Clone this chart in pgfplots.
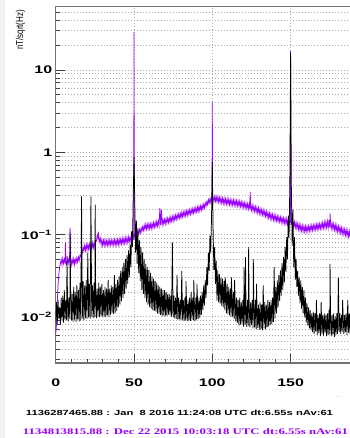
\documentclass[border=0pt]{standalone}
\usepackage{pgfplots}
\pgfplotsset{compat=1.18}
\usepackage{graphicx}
\usepackage{fontspec}
\setmainfont{Liberation Sans}
\newfontfamily\serifbf{Liberation Serif}
\definecolor{rootpurple}{RGB}{153,0,255}
\newcommand{\tl}[1]{\scalebox{1.45}[1]{#1}}

\pgfplotstableread{
x y
0 0.0062
0.5 0.008
1 0.015
1.5 0.024
2 0.033
2.5 0.04
3 0.044
3.5 0.05
4 0.043
4.5 0.051
5 0.044
5.5 0.05
6 0.045
6.2 0.08
6.5 0.046
7 0.043
7.5 0.05
8 0.044
8.5 0.052
9 0.047
9.2 0.12
9.5 0.05
10 0.043
10.5 0.05
11 0.044
11.5 0.051
12 0.043
12.5 0.05
13 0.045
13.5 0.052
14 0.046
14.5 0.053
15 0.048
15.5 0.056
16 0.054
16.5 0.062
17 0.06
17.5 0.07
18 0.063
18.5 0.074
19 0.064
19.5 0.075
20 0.065
20.5 0.076
21 0.066
21.5 0.077
22 0.066
22.5 0.078
23 0.067
23.5 0.079
24 0.068
24.5 0.08
25 0.07
25.5 0.085
26 0.083
26.5 0.098
27 0.09
27.2 0.108
27.5 0.095
28 0.082
28.5 0.09
29 0.075
29.5 0.086
30 0.073
30.5 0.085
31 0.074
31.5 0.086
32 0.073
32.5 0.084
33 0.074
33.5 0.086
34 0.073
34.5 0.085
35 0.075
35.5 0.086
36 0.074
36.5 0.085
37 0.075
37.5 0.087
38 0.074
38.5 0.086
39 0.075
39.5 0.087
40 0.075
40.5 0.088
41 0.076
41.5 0.088
42 0.077
42.5 0.089
43 0.077
43.5 0.09
44 0.078
44.5 0.091
45 0.079
45.5 0.092
46 0.08
46.5 0.093
47 0.081
47.5 0.094
48 0.082
48.5 0.095
49 0.083
49.5 0.095
49.8 0.09
50 29
50.2 0.095
50.5 0.1
51 0.092
51.5 0.106
52 0.096
52.5 0.11
53 0.1
53.5 0.115
54 0.104
54.5 0.12
55 0.108
55.5 0.124
56 0.112
56.5 0.13
57 0.115
57.5 0.133
58 0.116
58.5 0.134
59 0.117
59.5 0.135
60 0.117
60.5 0.135
61 0.118
61.5 0.137
62 0.12
62.5 0.139
63 0.122
63.5 0.141
64 0.124
64.5 0.144
65 0.126
65.5 0.146
66 0.128
66.5 0.21
67 0.13
67.5 0.2
68 0.132
68.5 0.151
69 0.133
69.5 0.153
70 0.135
70.5 0.156
71 0.137
71.5 0.158
72 0.139
72.5 0.16
73 0.141
73.5 0.163
74 0.144
74.5 0.166
75 0.146
75.5 0.169
76 0.149
76.5 0.172
77 0.152
77.5 0.175
78 0.155
78.5 0.178
79 0.158
79.5 0.182
80 0.16
80.5 0.185
81 0.163
81.5 0.188
82 0.166
82.5 0.191
83 0.168
83.5 0.194
84 0.171
84.5 0.197
85 0.174
85.5 0.2
86 0.176
86.5 0.203
87 0.179
87.5 0.206
88 0.182
88.5 0.209
89 0.185
89.5 0.212
90 0.188
90.5 0.216
91 0.19
91.5 0.219
92 0.194
92.5 0.223
93 0.198
93.5 0.228
94 0.203
94.5 0.234
95 0.21
95.5 0.242
96 0.22
96.5 0.252
97 0.23
97.5 0.265
98 0.24
98.5 0.275
99 0.245
99.5 0.28
99.8 0.26
100 4.1
100.2 0.27
100.5 0.285
101 0.25
101.5 0.29
102 0.252
102.5 0.288
103 0.25
103.5 0.286
104 0.247
104.5 0.283
105 0.244
105.5 0.28
106 0.24
106.5 0.277
107 0.238
107.5 0.275
108 0.236
108.5 0.273
109 0.234
109.5 0.27
110 0.232
110.5 0.268
111 0.23
111.5 0.265
112 0.228
112.5 0.263
113 0.227
113.5 0.262
114 0.226
114.5 0.26
115 0.224
115.5 0.258
116 0.222
116.5 0.256
117 0.22
117.5 0.254
118 0.218
118.5 0.25
119 0.215
119.5 0.247
120 0.212
120.5 0.244
121 0.21
121.5 0.24
122 0.207
122.5 0.237
123 0.204
123.5 0.234
124 0.2
124.2 0.33
124.5 0.23
125 0.197
125.5 0.226
126 0.194
126.5 0.222
127 0.19
127.5 0.218
128 0.187
128.5 0.214
129 0.183
129.5 0.21
130 0.18
130.5 0.206
131 0.176
131.5 0.202
132 0.173
132.5 0.198
133 0.169
133.5 0.194
134 0.166
134.5 0.19
135 0.162
135.5 0.186
136 0.159
136.5 0.182
137 0.156
137.5 0.179
138 0.153
138.5 0.176
139 0.15
139.5 0.173
140 0.148
140.5 0.17
141 0.146
141.5 0.167
142 0.144
142.5 0.165
143 0.142
143.5 0.163
144 0.14
144.5 0.161
145 0.138
145.5 0.159
146 0.136
146.5 0.157
147 0.134
147.5 0.155
148 0.132
148.5 0.152
149 0.13
149.5 0.15
149.8 0.14
150 17
150.2 0.14
150.5 0.148
151 0.127
151.5 0.146
152 0.124
152.5 0.143
153 0.121
153.5 0.139
154 0.118
154.5 0.136
155 0.115
155.5 0.133
156 0.112
156.5 0.13
157 0.11
157.5 0.128
158 0.109
158.5 0.127
159 0.108
159.5 0.126
160 0.108
160.5 0.126
161 0.109
161.5 0.127
162 0.11
162.5 0.128
163 0.111
163.5 0.129
164 0.112
164.5 0.13
165 0.113
165.5 0.131
166 0.114
166.5 0.133
167 0.115
167.5 0.134
168 0.116
168.5 0.135
169 0.117
169.5 0.137
170 0.118
170.5 0.139
171 0.119
171.5 0.141
172 0.12
172.5 0.143
173 0.121
173.5 0.145
174 0.12
174.5 0.15
175 0.12
175.2 0.18
175.5 0.14
176 0.118
176.5 0.138
177 0.116
177.5 0.135
178 0.113
178.5 0.132
179 0.11
179.5 0.129
180 0.108
180.5 0.126
181 0.106
181.5 0.124
182 0.104
182.5 0.121
183 0.102
183.5 0.118
184 0.1
184.5 0.116
185 0.098
185.5 0.114
186 0.096
186.5 0.112
187 0.094
187.5 0.11
188 0.093
188.5 0.108
189 0.092
}\purpledata

\pgfplotstableread{
x y
0 0.0088
0.5 0.015
1 0.0082
1.5 0.016
2 0.0095
2.5 0.013
3 0.0080
3.5 0.017
4 0.0090
4.5 0.018
5 0.0085
5.5 0.021
6 0.0092
6.5 0.016
7 0.009
7.2 0.055
7.5 0.02
8 0.0088
8.5 0.017
9 0.0095
9.2 0.105
9.5 0.022
10 0.009
10.5 0.019
11 0.0087
11.5 0.023
12 0.0092
12.5 0.02
13 0.0086
13.5 0.024
14 0.0093
14.5 0.021
15 0.0088
15.5 0.026
16 0.009
16.5 0.29
17 0.0095
17.5 0.027
18 0.0091
18.5 0.024
19 0.0096
19.5 0.028
20 0.0094
20.5 0.06
21 0.0098
21.5 0.025
22 0.0095
22.5 0.29
23 0.01
23.5 0.024
24 0.0097
24.5 0.026
25 0.0099
25.2 0.23
25.5 0.024
26 0.0096
26.5 0.022
27 0.0101
27.5 0.026
28 0.0099
28.5 0.023
29 0.0103
29.5 0.025
30 0.0099
30.5 0.021
31 0.0102
31.5 0.023
32 0.0098
32.5 0.022
33 0.0104
33.5 0.028
34 0.0099
34.5 0.022
35 0.0106
35.5 0.024
36 0.011
36.5 0.023
37 0.0108
37.5 0.032
38 0.0112
38.5 0.025
39 0.0118
39.5 0.028
40 0.013
40.5 0.031
41 0.014
41.5 0.036
42 0.0155
42.5 0.04
43 0.017
43.5 0.045
44 0.019
44.5 0.05
45 0.022
45.5 0.056
46 0.025
46.5 0.064
47 0.03
47.5 0.075
48 0.04
48.5 0.11
49 0.07
49.5 0.3
50 0.87
50.5 0.25
51 0.06
51.5 0.148
52 0.044
52.5 0.12
53 0.034
53.5 0.085
54 0.027
54.5 0.07
55 0.021
55.5 0.06
56 0.019
56.5 0.05
57 0.017
57.5 0.044
58 0.015
58.5 0.04
59 0.014
59.5 0.037
60 0.013
60.5 0.034
61 0.0125
61.5 0.031
62 0.012
62.5 0.029
63 0.0118
63.5 0.027
64 0.0115
64.5 0.026
65 0.011
65.5 0.024
66 0.0108
66.5 0.023
67 0.0105
67.5 0.022
68 0.0102
68.5 0.021
69 0.0104
69.5 0.021
70 0.0101
70.5 0.02
71 0.0103
71.5 0.019
72 0.0106
72.5 0.019
73 0.0104
73.5 0.018
74 0.01
74.5 0.08
75 0.0098
75.5 0.018
76 0.0096
76.5 0.017
77 0.0094
77.5 0.032
78 0.0092
78.5 0.017
79 0.0093
79.5 0.016
80 0.009
80.5 0.036
81 0.0092
81.5 0.016
82 0.0089
82.5 0.017
83 0.0091
83.2 0.027
83.5 0.016
84 0.0088
84.5 0.016
85 0.009
85.5 0.017
86 0.0089
86.5 0.02
87 0.0092
87.5 0.017
88 0.009
88.2 0.028
88.5 0.016
89 0.0088
89.5 0.017
90 0.0092
90.2 0.025
90.5 0.017
91 0.0094
91.5 0.017
92 0.0097
92.5 0.018
93 0.0105
93.5 0.02
94 0.012
94.5 0.024
95 0.0137
95.5 0.028
96 0.017
96.5 0.04
97 0.024
97.5 0.06
98 0.036
98.5 0.097
99 0.059
99.5 0.16
100 0.76
100.5 0.12
101 0.037
101.5 0.07
102 0.025
102.5 0.048
103 0.0157
103.5 0.0365
104 0.015
104.5 0.033
105 0.0145
105.5 0.03
106 0.0135
106.5 0.029
107 0.013
107.5 0.027
108 0.0122
108.2 0.03
108.5 0.026
109 0.011
109.5 0.025
110 0.0108
110.5 0.023
111 0.0104
111.5 0.022
112 0.01
112.2 0.03
112.5 0.021
113 0.0099
113.5 0.02
114 0.0094
114.2 0.028
114.5 0.018
115 0.0088
115.5 0.017
116 0.0085
116.5 0.016
117 0.0078
117.5 0.017
118 0.008
118.5 0.015
119 0.0082
119.5 0.016
120 0.0076
120.3 0.04
120.5 0.016
121 0.008
121.2 0.053
121.5 0.015
122 0.0075
122.5 0.016
123 0.0078
123.2 0.07
123.5 0.016
124 0.0074
124.5 0.015
125 0.0079
125.5 0.016
126 0.0072
126.2 0.05
126.5 0.015
127 0.0074
127.5 0.016
128 0.007
128.2 0.025
128.5 0.015
129 0.0073
129.5 0.014
130 0.0069
130.5 0.015
131 0.0071
131.5 0.014
132 0.0068
132.5 0.024
133 0.0072
133.5 0.015
134 0.007
134.5 0.014
135 0.0074
135.5 0.016
136 0.0076
136.5 0.015
137 0.0079
137.5 0.016
138 0.0082
138.5 0.017
139 0.0086
139.5 0.04
140 0.0095
140.5 0.023
141 0.011
141.5 0.0276
142 0.013
142.5 0.032
143 0.0155
143.5 0.0365
144 0.018
144.5 0.045
145 0.021
145.5 0.053
146 0.026
146.5 0.07
147 0.035
147.5 0.093
148 0.05
148.5 0.17
149 0.09
149.5 0.4
150 16
150.5 0.35
151 0.073
151.5 0.2
152 0.04
152.5 0.093
153 0.028
153.5 0.05
154 0.023
154.5 0.036
155 0.018
155.5 0.03
156 0.0145
156.5 0.0276
157 0.0125
157.2 0.019
157.5 0.023
158 0.011
158.5 0.021
159 0.0098
159.5 0.017
160 0.0085
160.5 0.0145
161 0.0078
161.5 0.013
162 0.0072
162.5 0.012
163 0.0068
163.5 0.011
164 0.0065
164.5 0.0115
165 0.0062
165.5 0.011
166 0.0066
166.5 0.016
167 0.006
167.5 0.0105
168 0.0063
168.5 0.011
169 0.0058
169.5 0.015
170 0.0062
170.5 0.0105
171 0.0059
171.5 0.011
172 0.0063
172.5 0.0105
173 0.0058
173.5 0.011
174 0.006
174.5 0.012
175 0.0062
175.2 0.044
175.5 0.011
176 0.0058
176.5 0.0105
177 0.0061
177.5 0.011
178 0.0057
178.5 0.01
179 0.006
179.5 0.011
180 0.0062
180.5 0.03
181 0.0065
181.5 0.011
182 0.0062
182.5 0.0105
183 0.0066
183.2 0.016
183.5 0.011
184 0.0062
184.5 0.0105
185 0.0065
185.5 0.011
186 0.006
186.5 0.016
187 0.0064
187.5 0.011
188 0.0062
188.5 0.0105
189 0.0065
}\blackdata

\begin{document}
\begin{tikzpicture}[x=1pt,y=1pt]
\path[use as bounding box] (0,0) rectangle (349,438);
\fill[gray!10] (0,0) rectangle (5,438);
\begin{axis}[
  at={(55.7pt,75pt)}, anchor=south west,
  scale only axis, width=300pt, height=356.3pt,
  xmin=0, xmax=191.57,
  ymode=log, ymin=0.002735, ymax=58.9,
  xtick={0,50,100,150},
  xticklabels={\tl{0},\tl{50},\tl{100},\tl{150}},
  minor x tick num=4,
  ytick={0.01,0.1,1,10},
  yticklabels={\tl{10\textsuperscript{−2}},\tl{10\textsuperscript{−1}},\tl{1},\tl{10}},
  minor ytick={0.003,0.004,0.005,0.006,0.007,0.008,0.009,0.02,0.03,0.04,0.05,0.06,0.07,0.08,0.09,0.2,0.3,0.4,0.5,0.6,0.7,0.8,0.9,2,3,4,5,6,7,8,9,20,30,40,50},
  xticklabel style={font=\fontsize{11}{11}\selectfont\bfseries, yshift=-12pt},
  yticklabel style={font=\fontsize{11}{11}\selectfont\bfseries},
  tick align=inside,
  xtick pos=left, ytick pos=left,
  major tick length=9pt, minor tick length=4.5pt,
  tick style={black!75, line width=0.8pt},
  ymajorgrids, yminorgrids, xmajorgrids,
  grid style={gray!65, line width=0.6pt, dash pattern=on 1pt off 2pt},
  minor grid style={gray!65, line width=0.6pt, dash pattern=on 1pt off 2pt},
  axis line style={black!55, line width=1.3pt},
]
\addplot[rootpurple, line width=0.75pt, no marks] table[x=x,y=y] {\purpledata};
\addplot[black, line width=0.75pt, no marks] table[x=x,y=y] {\blackdata};
\end{axis}
\node[rotate=90, inner sep=0] at (20.5,408) {\scalebox{1}[1.25]{\fontsize{8}{8}\selectfont nT/sqrt(Hz)}};
\node[text=gray!60, inner sep=0, font=\fontsize{6}{6}\selectfont] at (338,40) {- -};
\node[anchor=base, inner sep=0] at (179.5,22) {\resizebox{307pt}{\height}{\fontsize{7.4}{8}\selectfont\bfseries 1136287465.88 : Jan\ \ 8 2016 11:24:08 UTC dt:6.55s nAv:61}};
\node[anchor=base, inner sep=0, text=rootpurple] at (185.5,4) {\resizebox{325pt}{\height}{\serifbf\fontsize{8.6}{9}\selectfont\bfseries 1134813815.88 : Dec 22 2015 10:03:18 UTC dt:6.55s nAv:61}};
\end{tikzpicture}
\end{document}
